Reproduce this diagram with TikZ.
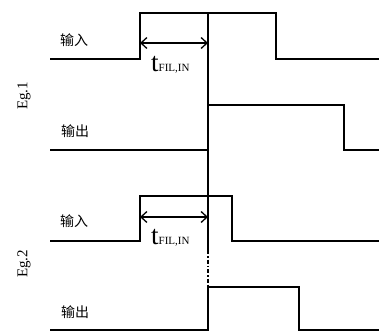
\documentclass[tikz,border=0pt]{standalone}
\usepackage{fontspec}
\setmainfont{Liberation Serif}
\newfontfamily\cjk{Noto Sans CJK SC}
\usetikzlibrary{arrows.meta}

\tikzset{   sigline/.style={draw=black,line width=1.5pt,line join=miter},
            dimarrow/.style={draw=black,line width=1.3pt,{Straight Barb[length=6pt,width=11pt]}-{Straight Barb[length=6pt,width=11pt]}},
            dashdotline/.style={draw=black,line width=1.5pt,dash pattern=on 4pt off 2pt on 1.5pt off 2pt},
            cjktext/.style={font=\cjk\fontsize{14}{16}\selectfont,inner sep=0pt},
            egtext/.style={font=\fontsize{15}{17}\selectfont,rotate=90,inner sep=0pt},
            tfiltext/.style={anchor=base west,inner sep=0pt},
}

\begin{document}
\begin{tikzpicture}[x=1pt,y=-1pt]
    \useasboundingbox (0,0) rectangle (379,331);

    \draw[sigline] (50,59) -- (140,59) -- (140,13) -- (276,13) -- (276,59) -- (379,59);      % Eg.1 input
    \draw[sigline] (50,150) -- (208,150) -- (208,105) -- (344,105) -- (344,150) -- (379,150); % Eg.1 output
    \draw[sigline] (50,241) -- (140,241) -- (140,196) -- (232,196) -- (232,241) -- (379,241); % Eg.2 input
    \draw[sigline] (50,330) -- (208,330) -- (208,287) -- (299,287) -- (299,330) -- (379,330); % Eg.2 output

    \coordinate (reftop) at (208,13);   % reference line
    \coordinate (refmid) at (208,250);
    \coordinate (refbot) at (208,287);
    \draw[sigline] (reftop) -- (refmid);
    \draw[dashdotline] (refmid) -- (refbot);

    \coordinate (arra1) at (140,43);    % filter time arrows
    \coordinate (arrb1) at (208,43);
    \coordinate (arra2) at (140,217);
    \coordinate (arrb2) at (208,217);
    \draw[dimarrow] (arra1) -- (arrb1);
    \draw[dimarrow] (arra2) -- (arrb2);

    \node[tfiltext] (tfil1) at (151,72) {{\fontsize{27}{29}\selectfont t}{\fontsize{11}{13}\selectfont FIL,IN}};
    \node[tfiltext] (tfil2) at (151,244) {{\fontsize{27}{29}\selectfont t}{\fontsize{11}{13}\selectfont FIL,IN}};

    \node[cjktext] (in1) at (74,40) {输入};   % signal labels
    \node[cjktext] (out1) at (75,131) {输出};
    \node[cjktext] (in2) at (74,221) {输入};
    \node[cjktext] (out2) at (75,312) {输出};

    \node[egtext] (eg1) at (24,96) {Eg.1};   % example labels
    \node[egtext] (eg2) at (24,264) {Eg.2};
\end{tikzpicture}
\end{document}
